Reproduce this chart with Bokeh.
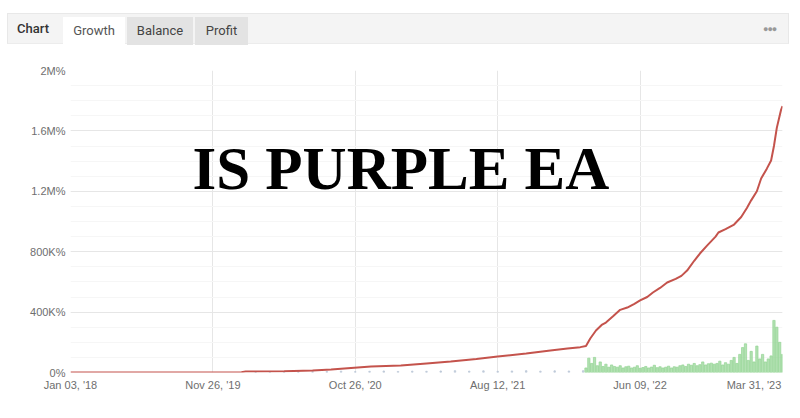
from bokeh.plotting import figure
from bokeh.models import Range1d, FixedTicker, Label, Div
from bokeh.layouts import column
from bokeh.embed import file_html
from bokeh.resources import INLINE

# ---- data (x = trading-day index, y = growth in thousands of %) ----
growth_idx = [0, 60, 120, 123, 150, 170, 183, 197, 211, 232,
              250, 267, 285, 300, 320, 337, 349, 358, 362, 365,
              369, 373, 376, 381, 386, 391, 396, 400, 405, 409,
              414, 419, 425, 429, 433, 438, 442, 447, 453, 455,
              460, 466, 471, 475, 478, 482, 485, 489, 492, 494,
              496, 498, 499, 500]
growth_k = [0, 0, 2, 6, 9, 13, 20, 30, 40, 46,
            60, 73, 90, 106, 126, 146, 159, 168, 175, 225,
            278, 315, 331, 372, 415, 430, 455, 477, 500, 530,
            560, 596, 620, 640, 675, 740, 788, 840, 900, 927,
            950, 980, 1030, 1090, 1140, 1200, 1285, 1350, 1404, 1500,
            1620, 1700, 1740, 1765]

bar_idx = list(range(362, 501, 2))
bar_k = [30, 95, 60, 100, 45, 70, 40, 55, 35, 50,
         40, 35, 45, 30, 38, 42, 30, 35, 45, 28,
         33, 40, 30, 36, 48, 32, 38, 30, 35, 42,
         30, 38, 35, 45, 50, 40, 55, 48, 60, 45,
         52, 70, 50, 58, 62,
         55, 60, 75, 50, 65, 55, 80, 100, 60, 120,
         165, 190, 80, 140, 70, 175, 90, 120, 70, 90,
         110, 345, 300, 200, 120]

pre_idx = list(range(130, 361, 10))
pre_k = [4, 6, 5, 8, 6, 7, 9, 6, 8, 10, 7, 9, 8, 10, 12, 9, 11, 8, 10, 12, 9, 11, 10, 12]

y_ticks = [0, 400, 800, 1200, 1600, 2000]
y_labels = ["0%", "400K%", "800K%", "1.2M%", "1.6M%", "2M%"]
grid_x = [0, 100, 200, 300, 400, 500]
# the last date label is pulled in so that it ends at the plot's right edge
label_x = [0, 100, 200, 300, 400, 480]
x_labels = ["Jan 03, '18", "Nov 26, '19", "Oct 26, '20", "Aug 12, '21", "Jun 09, '22", "Mar 31, '23"]

# ---- tab bar ----
tabs_html = """
<div style="width:800px;height:45px;position:relative;font-family:Roboto,Arial,sans-serif;font-size:13px;">
  <div style="position:absolute;left:7px;top:13px;width:782px;height:31px;background:#f4f4f4;border:1px solid #e8e8e8;border-bottom:1px solid #ececec;"></div>
  <div style="position:absolute;left:17px;top:13px;height:32px;line-height:32px;color:#333;font-weight:500;">Chart</div>
  <div style="position:absolute;left:63px;top:17px;width:62px;height:28px;line-height:28px;background:#ffffff;color:#555;text-align:center;">Growth</div>
  <div style="position:absolute;left:127px;top:17px;width:66px;height:28px;line-height:28px;background:#e3e3e3;color:#444;text-align:center;">Balance</div>
  <div style="position:absolute;left:195px;top:17px;width:53px;height:28px;line-height:28px;background:#e3e3e3;color:#444;text-align:center;">Profit</div>
  <div style="position:absolute;left:763px;top:14px;height:32px;line-height:30px;color:#999;font-size:9px;letter-spacing:-1px;">&#9679;&#9679;&#9679;</div>
</div>
"""
tabs = Div(text=tabs_html, width=800, height=45, margin=(0, 0, 0, 0))

# ---- figure ----
p = figure(width=800, height=372, output_backend="svg", toolbar_location=None,
           x_range=Range1d(0, 500), y_range=Range1d(0, 2000),
           min_border_left=70, min_border_right=18, min_border_top=25, min_border_bottom=45)
p.outline_line_color = None
p.background_fill_color = "white"
p.border_fill_color = "white"

p.yaxis.ticker = FixedTicker(ticks=y_ticks, minor_ticks=list(range(0, 2001, 100)))
p.yaxis.major_label_overrides = {t: l for t, l in zip(y_ticks, y_labels)}
p.xaxis.ticker = FixedTicker(ticks=label_x)
p.xaxis.major_label_overrides = {t: l for t, l in zip(label_x, x_labels)}
p.xgrid.ticker = FixedTicker(ticks=grid_x)

for ax in (p.xaxis, p.yaxis):
    ax.axis_line_color = None
    ax.major_tick_line_color = None
    ax.minor_tick_line_color = None
    ax.major_tick_out = 0
    ax.minor_tick_out = 0
    ax.major_tick_in = 0
    ax.minor_tick_in = 0
    ax.major_label_text_font = "Liberation Sans"
    ax.major_label_text_font_size = "11px"
    ax.major_label_text_color = "#6e6e6e"
p.yaxis.major_label_standoff = 5
p.xaxis.major_label_standoff = 6

p.ygrid.grid_line_color = "#e6e6e6"
p.ygrid.minor_grid_line_color = "#f6f6f6"
p.xgrid.grid_line_color = "#e6e6e6"

p.vbar(x=pre_idx, top=pre_k, width=1.0, color="#b9c6d6", alpha=0.8)
p.vbar(x=bar_idx, top=bar_k, width=1.6, color="#93d493", alpha=0.7)
p.line(growth_idx, growth_k, line_color="#c4534c", line_width=2)

p.add_layout(Label(x=232, y=1352, text="IS PURPLE EA", text_align="center", text_baseline="alphabetic",
                   text_font="Liberation Serif", text_font_style="bold", text_font_size="61px",
                   text_color="#000000"))

layout = column(tabs, p, spacing=0)
open("out.html", "w").write(file_html(layout, INLINE))
